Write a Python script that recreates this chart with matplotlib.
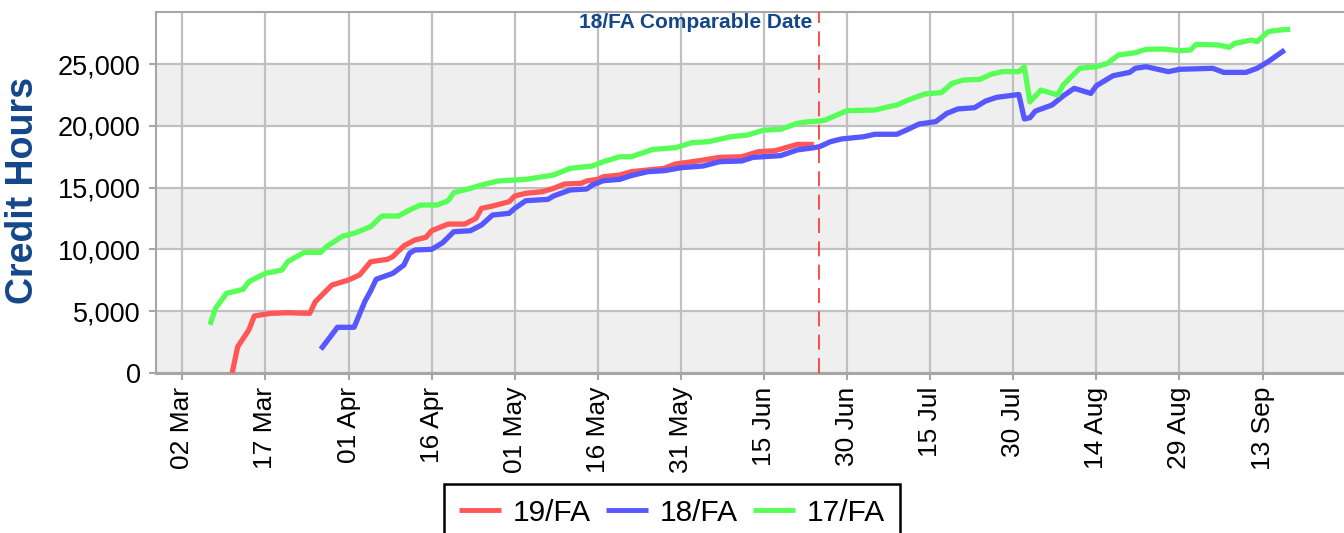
import matplotlib
matplotlib.use("Agg")
import matplotlib.pyplot as plt
import matplotlib.dates as mdates
from matplotlib.ticker import FuncFormatter
import pandas as pd

plt.rcParams["font.family"] = ["Liberation Sans", "DejaVu Sans"]

# ── data (cumulative credit hours by day) ──
RED_LABEL = "19/FA"
RED_DATES = ["03-11", "03-12", "03-14", "03-15", "03-18", "03-21", "03-25", "03-26",
             "03-29", "04-01", "04-03", "04-05", "04-08", "04-09", "04-11", "04-13",
             "04-15", "04-16", "04-19", "04-22", "04-24", "04-25", "04-27", "04-30",
             "05-01", "05-03", "05-06", "05-08", "05-10", "05-13", "05-14", "05-16",
             "05-17", "05-20", "05-22", "05-28", "05-30", "06-03", "06-07", "06-11",
             "06-14", "06-17", "06-21", "06-24"]
RED_VALS = [0, 2130, 3480, 4620, 4830, 4880, 4830, 5770,
            7120, 7530, 7940, 9010, 9200, 9420, 10300, 10770,
            10990, 11520, 12060, 12060, 12520, 13330, 13520, 13870,
            14330, 14550, 14680, 14950, 15300, 15360, 15550, 15680,
            15890, 16030, 16300, 16570, 16920, 17170, 17460, 17510,
            17920, 18000, 18510, 18510]

BLUE_LABEL = "18/FA"
BLUE_DATES = ["03-27", "03-30", "04-02", "04-04", "04-05", "04-06", "04-09", "04-11",
              "04-12", "04-13", "04-16", "04-18", "04-20", "04-23", "04-25", "04-27",
              "04-30", "05-01", "05-03", "05-07", "05-08", "05-11", "05-14", "05-15",
              "05-17", "05-20", "05-22", "05-25", "05-28", "05-31", "06-04", "06-07",
              "06-11", "06-13", "06-18", "06-21", "06-24", "06-25", "06-27", "06-29",
              "07-03", "07-05", "07-09", "07-11", "07-13", "07-16", "07-18", "07-20",
              "07-23", "07-25", "07-27", "07-31", "08-01", "08-02", "08-03", "08-06",
              "08-08", "08-10", "08-13", "08-14", "08-17", "08-20", "08-21", "08-23",
              "08-27", "08-29", "09-04", "09-06", "09-10", "09-12", "09-14", "09-17"]
BLUE_VALS = [1920, 3700, 3700, 5840, 6650, 7590, 8070, 8740,
             9690, 9960, 10010, 10550, 11440, 11520, 11980, 12790,
             12930, 13330, 13950, 14060, 14330, 14820, 14900, 15220,
             15570, 15680, 15980, 16300, 16380, 16620, 16760, 17110,
             17170, 17460, 17600, 18060, 18240, 18320, 18730, 18950,
             19130, 19330, 19330, 19730, 20160, 20350, 21020, 21380,
             21480, 22020, 22320, 22550, 20570, 20670, 21210, 21700,
             22430, 23050, 22640, 23260, 24070, 24340, 24670, 24800,
             24400, 24590, 24670, 24340, 24340, 24670, 25210, 26150]

GREEN_LABEL = "17/FA"
GREEN_DATES = ["03-07", "03-08", "03-10", "03-13", "03-14", "03-17", "03-20", "03-21",
               "03-24", "03-27", "03-28", "03-31", "04-02", "04-05", "04-07", "04-10",
               "04-12", "04-14", "04-17", "04-19", "04-20", "04-23", "04-25", "04-28",
               "05-03", "05-06", "05-08", "05-11", "05-15", "05-17", "05-20", "05-22",
               "05-26", "05-30", "06-02", "06-05", "06-09", "06-12", "06-15", "06-18",
               "06-21", "06-23", "06-25", "06-26", "06-30", "07-05", "07-07", "07-09",
               "07-11", "07-14", "07-17", "07-19", "07-21", "07-24", "07-26", "07-28",
               "07-31", "08-01", "08-02", "08-04", "08-07", "08-08", "08-11", "08-14",
               "08-16", "08-18", "08-21", "08-23", "08-26", "08-29", "08-31", "09-01",
               "09-05", "09-07", "09-08", "09-11", "09-12", "09-14", "09-16", "09-18"]
GREEN_VALS = [3900, 5250, 6450, 6780, 7390, 8070, 8340, 9010,
              9770, 9770, 10230, 11090, 11310, 11850, 12710, 12710,
              13200, 13600, 13600, 13950, 14600, 14950, 15220, 15550,
              15680, 15890, 16030, 16570, 16760, 17110, 17510, 17510,
              18110, 18240, 18650, 18730, 19130, 19270, 19670, 19730,
              20210, 20350, 20400, 20480, 21240, 21290, 21510, 21700,
              22100, 22590, 22700, 23460, 23720, 23780, 24190, 24400,
              24400, 24800, 21950, 22910, 22510, 23320, 24670, 24800,
              25070, 25750, 25930, 26210, 26230, 26100, 26150, 26610,
              26560, 26370, 26690, 26960, 26830, 27640, 27770, 27830]

YEAR = "2019"
COMPARABLE_DATE = "06-25"
COMPARABLE_TEXT = "18/FA Comparable Date"
Y_LABEL = "Credit Hours"
Y_TICKS = [0, 5000, 10000, 15000, 20000, 25000]

SERIES = [
    (RED_LABEL, RED_DATES, RED_VALS, "#FF5757"),
    (BLUE_LABEL, BLUE_DATES, BLUE_VALS, "#5757FF"),
    (GREEN_LABEL, GREEN_DATES, GREEN_VALS, "#57FF57"),
]

NAVY = "#13478A"
GRID_C = "#C0C0C0"
BAND_C = "#EFEFEF"
SPINE_C = "#A6A6A6"


def to_dates(md):
    return pd.to_datetime([f"{YEAR}-{d}" for d in md])


fig = plt.figure(figsize=(13.44, 5.33), dpi=100)
ax = fig.add_axes([156 / 1344, 1 - 373 / 533, 1 - 156 / 1344, (373 - 12) / 533])

# alternating horizontal bands
for lo in (0, 10000, 20000):
    ax.axhspan(lo, lo + 5000, color=BAND_C, zorder=0, lw=0)

for label, dates, vals, color in SERIES:
    ax.plot(to_dates(dates), vals, color=color, lw=3.8, label=label,
            solid_joinstyle="round", solid_capstyle="butt", zorder=3)

# comparable date marker
cd = pd.Timestamp(f"{YEAR}-{COMPARABLE_DATE}")
ax.axvline(cd, color="#FF3030", lw=1.2, ls=(0, (9, 5)), zorder=4)
ax.annotate(COMPARABLE_TEXT, xy=(cd, 28420), xytext=(-5, 0),
            textcoords="offset points", ha="right", va="center",
            fontsize=15, fontweight="bold", color=NAVY)

x0 = pd.Timestamp(f"{YEAR}-03-02")
ax.set_xlim(x0 - pd.Timedelta(days=4.75), x0 + pd.Timedelta(days=209.7))
ax.set_ylim(0, 29230)

ax.set_xticks(pd.date_range(x0, periods=14, freq="15D"))
ax.xaxis.set_major_formatter(mdates.DateFormatter("%d %b"))
ax.set_yticks(Y_TICKS)
ax.yaxis.set_major_formatter(FuncFormatter(lambda v, p: f"{int(v):,}"))
for lab in ax.get_xticklabels():
    lab.set_rotation(90)

ax.tick_params(axis="both", colors=SPINE_C, labelcolor="black",
               length=5, width=1.5)
ax.tick_params(axis="y", pad=6, labelsize=19.5)
ax.tick_params(axis="x", pad=5, labelsize=19)

ax.set_axisbelow(True)
ax.grid(True, color=GRID_C, lw=1.6, zorder=1)
for side in ("left", "top", "bottom"):
    ax.spines[side].set_color(SPINE_C)
    ax.spines[side].set_linewidth(1.5)
ax.spines["bottom"].set_linewidth(2.2)
ax.spines["right"].set_visible(False)

fig.text(23.5 / 1344, 1 - 191 / 533, Y_LABEL, rotation=90, ha="center", va="center",
         fontsize=27, fontweight="bold", color=NAVY)

leg = fig.legend(loc="upper center", bbox_to_anchor=(672 / 1344, 1 - 484 / 533),
                 ncols=3, fontsize=21.5, frameon=True, fancybox=False,
                 edgecolor="black", framealpha=1.0, borderpad=0.5,
                 handlelength=1.4, handletextpad=0.4, columnspacing=0.5,
                 borderaxespad=0.0)
leg.get_frame().set_linewidth(1.8)
for line in leg.get_lines():
    line.set_linewidth(3.5)

fig.savefig("out.png", dpi=100)
